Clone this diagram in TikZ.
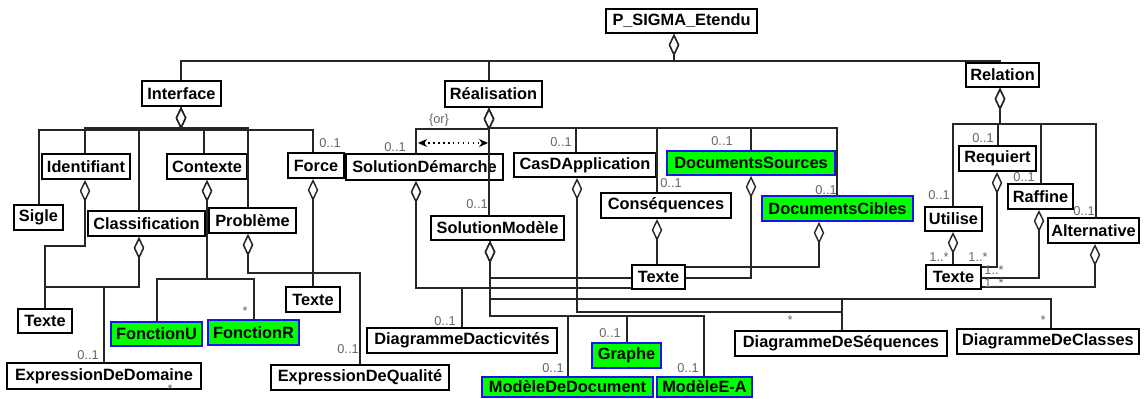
\documentclass[tikz,border=0pt]{standalone}
\usepackage{fontspec}
\setmainfont{Liberation Sans}
\usetikzlibrary{arrows.meta,calc}
\definecolor{boxgreen}{RGB}{0,255,0}
\definecolor{boxblue}{RGB}{20,20,235}
\tikzset{
  cls/.style={draw=black,line width=1.1pt,fill=white,inner sep=0pt,font=\fontsize{9.3}{11}\selectfont\bfseries},
  greencls/.style={fill=boxgreen,draw=boxblue,line width=1pt},
  conn/.style={line width=0.8pt,black!85},
  agg/.style={conn,{Diamond[length=0.44cm,width=0.21cm,fill=white,line width=0.8pt]}-},
  heavy/.style={line width=1.1pt},
  mult/.style={inner sep=0pt,text=black!60,font=\fontsize{7.3}{8}\selectfont},
}
\newcommand\umlbox[7][]{\node[cls,#1,minimum width={(#5-#3)*0.02cm},minimum height={(#6-#4)*0.02cm}] (#2) at ({(#3+#5)/2},{(#4+#6)/2}) {#7};}
\begin{document}
\begin{tikzpicture}[x=0.02cm,y=-0.02cm]
\fill[white] (0,0) rectangle (1144,399);
\useasboundingbox (0,0) rectangle (1144,399);
% classes
\umlbox{PS}{606}{9}{757}{33}{P\_SIGMA\_Etendu}
\umlbox{Interface}{142}{81}{221}{106}{Interface}
\umlbox{Realisation}{445}{81}{542}{107}{Réalisation}
\umlbox{Relation}{966}{63}{1039}{87}{Relation}
\umlbox{Identifiant}{42}{154}{130}{179}{Identifiant}
\umlbox{Contexte}{167}{154}{247}{179}{Contexte}
\umlbox{Force}{288}{153}{344}{178}{Force}
\umlbox{Sigle}{14}{205}{63}{230}{Sigle}
\umlbox{Classification}{88}{211}{205}{236}{Classification}
\umlbox{Probleme}{209}{208}{296}{233}{Problème}
\umlbox{TexteA}{18}{309}{72}{333}{Texte}
\umlbox{ExprDom}{7}{363}{201}{389}{ExpressionDeDomaine}
\umlbox[greencls]{FonctionU}{111}{322}{202}{346}{FonctionU}
\umlbox[greencls]{FonctionR}{208}{320}{299}{345}{FonctionR}
\umlbox{TexteB}{286}{287}{340}{312}{Texte}
\umlbox{ExprQual}{271}{365}{449}{390}{ExpressionDeQualité}
\umlbox{SolDem}{346}{154}{503}{180}{SolutionDémarche}
\umlbox{SolMod}{431}{216}{564}{240}{SolutionModèle}
\umlbox{CasApp}{514}{153}{656}{177}{CasDApplication}
\umlbox[greencls]{DocSrc}{667}{151}{835}{175}{DocumentsSources}
\umlbox{Conseq}{601}{193}{731}{218}{Conséquences}
\umlbox[greencls]{DocCib}{762}{196}{913}{221}{DocumentsCibles}
\umlbox{TexteC}{632}{265}{685}{289}{Texte}
\umlbox{DiagAct}{367}{328}{557}{353}{DiagrammeDacticvités}
\umlbox[greencls]{Graphe}{592}{343}{661}{368}{Graphe}
\umlbox[greencls]{ModDoc}{482}{377}{653}{397}{ModèleDeDocument}
\umlbox[greencls]{ModEA}{657}{377}{752}{397}{ModèleE-A}
\umlbox{DiagSeq}{735}{331}{947}{356}{DiagrammeDeSéquences}
\umlbox{DiagCls}{957}{329}{1139}{354}{DiagrammeDeClasses}
\umlbox{Requiert}{959}{146}{1036}{171}{Requiert}
\umlbox{Raffine}{1008}{184}{1073}{209}{Raffine}
\umlbox{Utilise}{925}{207}{982}{231}{Utilise}
\umlbox{Alternative}{1048}{218}{1139}{243}{Alternative}
\umlbox{TexteD}{926}{265}{981}{289}{Texte}
% P_SIGMA_Etendu
\draw[agg] (PS.south -| 674,0) -- (674,61) -| (Interface.north -| 181,0);
\draw[agg] (PS.south -| 674,0) -- (674,61) -| (Realisation.north -| 489,0);
\draw[agg] (PS.south -| 674,0) -- (674,61) -| (Relation.north -| 1000,0);
% Interface
\draw[agg] (Interface.south -| 181,0) -- (181,130) -| (Sigle.north -| 39,0);
\draw[agg] (Interface.south -| 181,0) -- (181,128) -| (Identifiant.north -| 85,0);
\draw[agg] (Interface.south -| 181,0) -- (181,128) -| (Classification.north -| 139,0);
\draw[agg] (Interface.south -| 181,0) -- (181,128) -| (Contexte.north -| 204,0);
\draw[agg] (Interface.south -| 181,0) -- (181,128) -| (Probleme.north -| 248,0);
\draw[agg] (Interface.south -| 181,0) -- (181,130) -| (Force.north -| 313,0);
% Identifiant, Classification, Contexte, Probleme, Force
\draw[agg] (Identifiant.south -| 85,0) -- (85,246) -| (TexteA.north -| 45,0);
\draw[agg] (Classification.south -| 139,0) -- (139,287) -| (TexteA.north -| 45,0);
\draw[agg] (Classification.south -| 139,0) -- (139,287) -| (ExprDom.north -| 104,0);
\draw[agg] (Contexte.south -| 207,0) -- (207,279) -| (FonctionU.north -| 157,0);
\draw[agg] (Contexte.south -| 207,0) -- (207,279) -| (FonctionR.north -| 254,0);
\draw[agg] (Probleme.south -| 248,0) -- (248,273) -| (TexteB.north -| 313,0);
\draw[agg] (Probleme.south -| 248,0) -- (248,273) -| (ExprQual.north -| 360,0);
\draw[agg] (Force.south -| 313,0) -- (TexteB.north -| 313,0);
% Realisation
\draw[agg,heavy] (Realisation.south -| 489,0) -- (489,129) -| (SolDem.north -| 416,0);
\draw[agg] (Realisation.south -| 489,0) -- (SolMod.north -| 489,0);
\draw[agg,heavy] (Realisation.south -| 489,0) -- (489,128) -| (CasApp.north -| 576,0);
\draw[agg,heavy] (Realisation.south -| 489,0) -- (489,128) -| (DocSrc.north -| 751,0);
\draw[agg,heavy] (Realisation.south -| 489,0) -- (489,128) -| (Conseq.north -| 657,0);
\draw[agg,heavy] (Realisation.south -| 489,0) -- (489,128) -| (DocCib.north -| 837,0);
% SolutionDemarche
\draw[agg] (SolDem.south -| 416,0) -- (416,288) -- (TexteC.west |- 0,288);
\draw[agg] (SolDem.south -| 416,0) -- (416,288) -| (DiagAct.north -| 462,0);
% SolutionModele
\draw[agg] (SolMod.south -| 490,0) -- (490,278) -- (TexteC.west |- 0,278);
\draw[agg] (SolMod.south -| 490,0) -- (490,299) -| (DiagSeq.north -| 842,0);
\draw[agg] (SolMod.south -| 490,0) -- (490,299) -| (DiagCls.north -| 1051,0);
\draw[agg,heavy] (SolMod.south -| 490,0) -- (490,316) -| (ModDoc.north -| 568,0);
\draw[agg] (SolMod.south -| 490,0) -- (490,316) -| (Graphe.north -| 627,0);
\draw[agg] (SolMod.south -| 490,0) -- (490,316) -| (ModEA.north -| 704,0);
% CasDApplication, Consequences, Documents
\draw[agg] (CasApp.south -| 577,0) -- (577,312) -| (DiagSeq.north -| 842,0);
\draw[agg] (Conseq.south -| 657,0) -- (TexteC.north -| 657,0);
\draw[agg] (DocSrc.south -| 751,0) -- (751,278) -- (TexteC.east |- 0,278);
\draw[agg] (DocCib.south -| 819,0) -- (819,267) -- (TexteC.east |- 0,267);
% Relation
\draw[agg,heavy] (Relation.south -| 1000,0) -- (1000,124) -| (Utilise.north -| 953,0);
\draw[agg,heavy] (Relation.south -| 1000,0) -- (1000,124) -| (Requiert.north -| 998,0);
\draw[agg,heavy] (Relation.south -| 1000,0) -- (1000,124) -| (Raffine.north -| 1041,0);
\draw[agg,heavy] (Relation.south -| 1000,0) -- (1000,124) -| (Alternative.north -| 1096,0);
\draw[agg] (Utilise.south -| 953,0) -- (TexteD.north -| 953,0);
\draw[agg] (Requiert.south -| 997,0) -- (997,267) -- (TexteD.east |- 0,267);
\draw[agg] (Raffine.south -| 1039,0) -- (1039,278) -- (TexteD.east |- 0,278);
\draw[agg] (Alternative.south -| 1095,0) -- (1095,287) -- (TexteD.east |- 0,287);
% {or} constraint
\coordinate (orL) at (418,143);
\coordinate (orR) at (488,143);
\draw[line width=0.8pt,dotted,{Stealth[length=0.18cm,width=0.16cm]}-{Stealth[length=0.18cm,width=0.16cm]}] (orL) -- (orR);
\node[mult] (orlab) at (439,120) {\{or\}};
% multiplicities
\node[mult] (m1) at (330,143) {0..1};
\node[mult] (m2) at (395,147) {0..1};
\node[mult] (m3) at (477,204) {0..1};
\node[mult] (m4) at (561,142) {0..1};
\node[mult] (m5) at (722,141) {0..1};
\node[mult] (m6) at (671,183) {0..1};
\node[mult] (m7) at (826,190) {0..1};
\node[mult] (m8) at (983,138) {0..1};
\node[mult] (m9) at (1024,177) {0..1};
\node[mult] (m10) at (939,195) {0..1};
\node[mult] (m11) at (1084,211) {0..1};
\node[mult] (m12) at (939,257) {1..*};
\node[mult] (m13) at (978,257) {1..*};
\node[mult] (m14) at (994,270) {1..*};
\node[mult] (m15) at (994,283) {1..*};
\node[mult] (m16) at (88,355) {0..1};
\node[mult] (m17) at (348,349) {0..1};
\node[mult] (m18) at (245,311) {*};
\node[mult] (m19) at (170,389) {*};
\node[mult] (m20) at (445,321) {0..1};
\node[mult] (m21) at (610,333) {0..1};
\node[mult] (m22) at (553,368) {0..1};
\node[mult] (m23) at (688,368) {0..1};
\node[mult] (m24) at (790,320) {*};
\node[mult] (m25) at (1043,320) {*};
\end{tikzpicture}
\end{document}
